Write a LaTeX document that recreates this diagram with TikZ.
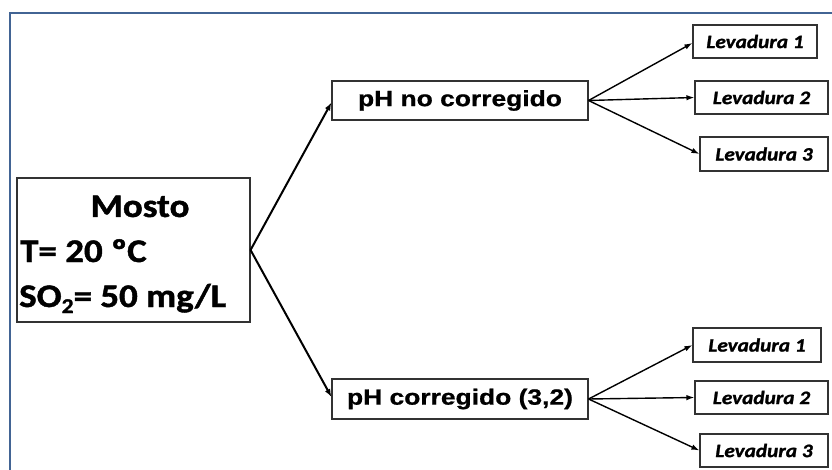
\documentclass[tikz,border=0pt]{standalone}
\usepackage{fontspec}
\newfontfamily\calib[FakeStretch=1.12,BoldFeatures={FakeBold=1.3},BoldItalicFeatures={FakeBold=1.3}]{Carlito}
\newfontfamily\arialb[FakeStretch=1.2,BoldFeatures={FakeBold=0.8}]{Liberation Sans}
\usetikzlibrary{arrows.meta,calc}
\definecolor{framecol}{RGB}{66,100,148}
\definecolor{boxcol}{RGB}{50,50,50}
\newcommand{\subtwo}{\raisebox{-6pt}{\fontsize{21}{21}\selectfont 2}}
\begin{document}
\begin{tikzpicture}[x=1pt,y=-1pt,
  box/.style={draw=boxcol,line width=1.1pt,inner sep=0pt,fill=white},
  phbox/.style={box,minimum width=256pt,minimum height=39pt,font=\arialb\bfseries\fontsize{22}{23}\selectfont},
  levbox/.style={box,minimum height=33pt,font=\calib\bfseries\itshape\fontsize{19}{20}\selectfont},
  bigtxt/.style={inner sep=0pt,font=\calib\bfseries\fontsize{33}{34}\selectfont},
  mainarr/.style={line width=2pt,-{Latex[length=8pt,width=6pt]}},
  subarr/.style={line width=1.4pt,-{Latex[length=8pt,width=5.5pt]}}]
\useasboundingbox (0,0) rectangle (832,470);
\fill[white] (0,0) rectangle (832,470);
\coordinate (fbl) at (10,470);
\coordinate (ftl) at (10,13);
\coordinate (ftr) at (832,13);
\draw[framecol,line width=2.5pt] (fbl) -- (ftl) -- (ftr);
% Mosto
\node[box,minimum width=233pt,minimum height=144pt] (mosto) at (133.5,250) {};
\node[bigtxt,anchor=base] (m1) at (140,217) {Mosto};
\node[bigtxt,anchor=base west] (m2) at (20,262) {T= 20 ºC};
\node[bigtxt,anchor=base west] (m3) at (19,307) {SO\subtwo= 50 mg/L};
% pH boxes
\node[phbox] (pha) at (460,100.5) {pH no corregido};
\node[phbox,minimum height=40pt] (phb) at (460,399) {pH corregido (3,2)};
% Levaduras
\node[levbox,minimum width=124pt] (la1) at (755,41.5) {Levadura 1};
\node[levbox,minimum width=133pt] (la2) at (761.5,97.5) {Levadura 2};
\node[levbox,minimum width=128pt,minimum height=34pt] (la3) at (764,154) {Levadura 3};
\node[levbox,minimum width=128pt,minimum height=34pt] (lb1) at (757,345) {Levadura 1};
\node[levbox,minimum width=133pt] (lb2) at (761.5,397.5) {Levadura 2};
\node[levbox,minimum width=128pt] (lb3) at (764,450.5) {Levadura 3};
% arrows
\draw[mainarr] (mosto.east) -- ($(pha.west)+(0,2)$);
\draw[mainarr] (mosto.east) -- ($(phb.west)+(0,-2)$);
\draw[subarr] (pha.east) -- ($(la1.west)+(0,1.5)$);
\draw[subarr] (pha.east) -- (la2.west);
\draw[subarr] (pha.east) -- (la3.west);
\draw[subarr] (phb.east) -- (lb1.west);
\draw[subarr] (phb.east) -- (lb2.west);
\draw[subarr] (phb.east) -- (lb3.west);
\end{tikzpicture}
\end{document}
